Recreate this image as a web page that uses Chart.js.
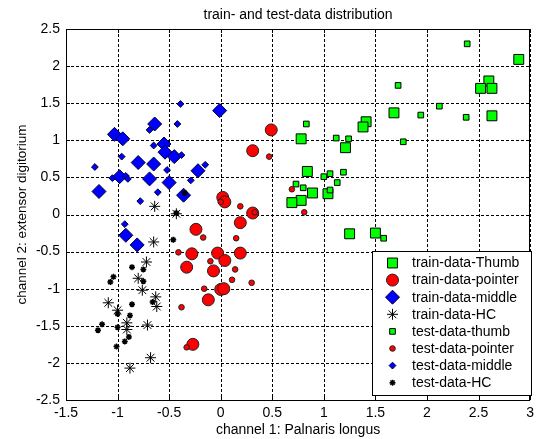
<!DOCTYPE html>
<html>
<head>
<meta charset="utf-8">
<script src="https://cdn.jsdelivr.net/npm/chart.js@4"></script>
<style>
  html, body { margin: 0; padding: 0; background: #fff; }
  #wrap { width: 539px; height: 439px; }
</style>
</head>
<body>
<div id="wrap"><canvas id="myChart" width="539" height="439"></canvas></div>
<script>
// data, [channel 1, channel 2]
var trainThumb = [[2.89,2.09],[2.60,1.80],[2.52,1.70],[2.63,1.70],[2.63,1.33],[1.68,1.37],[1.41,1.25],
  [1.38,1.18],[0.78,1.02],[1.21,0.90],[0.84,0.58],[0.89,0.29],[1.04,0.28],[0.78,0.19],[0.69,0.16],
  [1.25,-0.26],[1.50,-0.25]];
var trainPointer = [[0.49,1.14],[0.31,0.86],[0.02,0.23],[0.04,0.17],[0.31,0.02],[0.19,-0.11],
  [-0.24,-0.20],[-0.28,-0.53],[-0.33,-0.71],[-0.03,-0.52],[0.04,-0.62],[0.19,-0.52],[-0.07,-0.76],
  [0.00,-1.01],[0.03,-1.00],[-0.12,-1.15],[-0.27,-1.75]];
var trainMiddle = [[-1.03,1.08],[-0.95,1.02],[-0.64,1.22],[-0.55,0.95],[-0.54,0.84],[-0.45,0.78],
  [-0.80,0.70],[-0.65,0.68],[-0.98,0.51],[-0.69,0.48],[-0.50,0.43],[-0.22,0.59],[-1.18,0.31],
  [-0.36,0.26],[-0.01,1.40],[-0.92,-0.28],[-0.81,-0.41]];
var trainHC = [[-0.64,0.11],[-0.43,0.01],[-0.65,-0.37],[-0.72,-0.64],[-0.80,-0.86],[-0.76,-1.02],
  [-0.63,-1.11],[-0.62,-1.24],[-1.09,-1.19],[-1.00,-1.29],[-0.91,-1.46],[-0.91,-1.55],[-0.71,-1.49],
  [-0.68,-1.93],[-0.88,-2.07]];
var testThumb = [[2.39,2.30],[1.72,1.74],[2.12,1.46],[1.94,1.34],[2.38,1.31],[0.83,1.22],[1.12,1.03],
  [1.24,1.02],[1.77,0.98],[1.19,0.57],[1.06,0.55],[1.00,0.51],[1.13,0.43],[0.73,0.41],[0.80,0.36],
  [1.06,0.33],[1.58,-0.32]];
var testPointer = [[-0.17,-0.31],[-0.41,-0.51],[-0.10,-0.63],[0.14,-0.74],[0.11,-0.88],[0.30,-0.92],
  [-0.16,-1.00],[-0.38,-1.25],[-0.33,-1.79],[0.15,-0.32],[0.19,0.11],[0.00,0.17],[0.33,0.03],
  [0.47,0.78],[0.69,0.34],[0.81,0.03]];
var testMiddle = [[-1.22,0.64],[-0.39,1.49],[-0.42,1.22],[-0.69,1.14],[-0.96,0.78],[-0.65,0.93],
  [-0.38,0.80],[-0.52,0.60],[-1.05,0.49],[-0.92,0.52],[-0.90,0.48],[-0.29,0.46],[-0.15,0.67],
  [-0.61,0.30],[-0.78,0.18],[-0.93,-0.13]];
var testHC = [[-0.46,-0.34],[-0.86,-0.71],[-0.75,-0.74],[-1.04,-0.84],[-1.07,-0.91],[-0.75,-0.90],
  [-0.86,-1.21],[-0.66,-1.18],[-1.00,-1.34],[-0.88,-1.36],[-1.00,-1.52],[-1.15,-1.48],[-1.19,-1.56],
  [-0.89,-1.65],[-0.93,-1.71],[-1.01,-1.78],[-0.35,0.29],[-0.43,0.02]];

var seriesNames = ["train-data-Thumb", "train-data-pointer", "train-data-middle", "train-data-HC",
  "test-data-thumb", "test-data-pointer", "test-data-middle", "test-data-HC"];
var xTicks = [-1.5, -1, -0.5, 0, 0.5, 1, 1.5, 2, 2.5, 3];
var yTicks = [-2.5, -2, -1.5, -1, -0.5, 0, 0.5, 1, 1.5, 2, 2.5];

function pts(arr) {
  return arr.map(function (p) { return { x: p[0], y: p[1] }; });
}

var styles = [
  { pointStyle: 'rect', pointRadius: 7, backgroundColor: '#00ff00', borderColor: '#000', borderWidth: 1 },
  { pointStyle: 'circle', pointRadius: 6, backgroundColor: '#ff0000', borderColor: '#222', borderWidth: 1 },
  { pointStyle: 'rectRot', pointRadius: 7, backgroundColor: '#0000ff', borderColor: '#000033', borderWidth: 1 },
  { pointStyle: 'star', pointRadius: 5.5, backgroundColor: '#000', borderColor: '#000', borderWidth: 1 },
  { pointStyle: 'rect', pointRadius: 4, backgroundColor: '#00ff00', borderColor: '#000', borderWidth: 1 },
  { pointStyle: 'circle', pointRadius: 2.8, backgroundColor: '#ff0000', borderColor: '#222', borderWidth: 1 },
  { pointStyle: 'rectRot', pointRadius: 3.4, backgroundColor: '#0000ff', borderColor: '#000033', borderWidth: 1 },
  { pointStyle: 'star', pointRadius: 3, backgroundColor: '#000', borderColor: '#000', borderWidth: 1.5 }
];
var allData = [trainThumb, trainPointer, trainMiddle, trainHC, testThumb, testPointer, testMiddle, testHC];

var datasets = allData.map(function (d, i) {
  var s = styles[i];
  return {
    label: seriesNames[i],
    data: pts(d),
    pointStyle: s.pointStyle,
    pointRadius: s.pointRadius,
    pointHoverRadius: s.pointRadius,
    backgroundColor: s.backgroundColor,
    borderColor: s.borderColor,
    borderWidth: s.borderWidth,
    order: allData.length - i   // later series on top, like matlab
  };
});

var FONT = 'Liberation Sans, Arial, sans-serif';

// dashed grid under the points
var dashGrid = {
  id: 'dashGrid',
  beforeDatasetsDraw: function (chart) {
    var ctx = chart.ctx, a = chart.chartArea;
    var xs = chart.scales.x, ys = chart.scales.y;
    ctx.save();
    ctx.strokeStyle = '#000';
    ctx.lineWidth = 1;
    ctx.setLineDash([3, 2]);
    ctx.beginPath();
    xTicks.forEach(function (t) {
      var px = Math.round(xs.getPixelForValue(t)) + 0.5;
      ctx.moveTo(px, a.top); ctx.lineTo(px, a.bottom);
    });
    yTicks.forEach(function (t) {
      var py = Math.round(ys.getPixelForValue(t)) + 0.5;
      ctx.moveTo(a.left, py); ctx.lineTo(a.right, py);
    });
    ctx.stroke();
    ctx.restore();
  }
};

// title, box, inner ticks and legend, matlab style
var matlabLook = {
  id: 'matlabLook',
  afterDraw: function (chart) {
    var ctx = chart.ctx, a = chart.chartArea;
    var xs = chart.scales.x, ys = chart.scales.y;
    ctx.save();
    ctx.strokeStyle = '#000';
    ctx.lineWidth = 1;
    ctx.setLineDash([]);
    ctx.strokeRect(Math.round(a.left) + 0.5, Math.round(a.top) + 0.5,
      Math.round(a.right - a.left) - 1, Math.round(a.bottom - a.top));
    ctx.beginPath();
    xTicks.forEach(function (t) {
      var px = Math.round(xs.getPixelForValue(t)) + 0.5;
      ctx.moveTo(px, a.bottom); ctx.lineTo(px, a.bottom - 4);
      ctx.moveTo(px, a.top); ctx.lineTo(px, a.top + 4);
    });
    yTicks.forEach(function (t) {
      var py = Math.round(ys.getPixelForValue(t)) + 0.5;
      ctx.moveTo(a.left, py); ctx.lineTo(a.left + 4, py);
      ctx.moveTo(a.right, py); ctx.lineTo(a.right - 4, py);
    });
    ctx.stroke();

    // title
    ctx.fillStyle = '#000';
    ctx.font = '14px ' + FONT;
    ctx.textAlign = 'center';
    ctx.textBaseline = 'middle';
    ctx.fillText('train- and test-data distribution', (a.left + a.right) / 2, 15);

    // legend
    var lx = 372, ly = 251, lw = 159, lh = 144, step = 17.1;
    ctx.fillStyle = '#fff';
    ctx.fillRect(lx, ly, lw, lh);
    ctx.strokeRect(lx + 0.5, ly + 0.5, lw, lh);
    ctx.font = '14px ' + FONT;
    ctx.textAlign = 'left';
    chart.data.datasets.forEach(function (ds, i) {
      var cy = ly + 12 + i * step;
      ctx.fillStyle = ds.backgroundColor;
      ctx.strokeStyle = ds.borderColor;
      ctx.lineWidth = ds.borderWidth;
      Chart.helpers.drawPoint(ctx, { pointStyle: ds.pointStyle, radius: ds.pointRadius, rotation: 0, borderWidth: ds.borderWidth }, 392.5, cy);
      ctx.fillStyle = '#000';
      ctx.fillText(ds.label, 412, cy + 0.5);
    });
    ctx.restore();
  }
};

var ctx = document.getElementById('myChart').getContext('2d');
var chart = new Chart(ctx, {
  type: 'scatter',
  data: { datasets: datasets },
  options: {
    responsive: false,
    animation: false,
    events: [],
    layout: { padding: { top: 29, right: 7, left: 0, bottom: 0 } },
    plugins: { legend: { display: false }, title: { display: false }, tooltip: { enabled: false } },
    scales: {
      x: {
        type: 'linear', min: -1.5, max: 3,
        afterBuildTicks: function (s) { s.ticks = xTicks.map(function (v) { return { value: v }; }); },
        afterFit: function (s) { s.height = 39; },
        ticks: {
          color: '#000', padding: 5, font: { family: FONT, size: 14 }, maxRotation: 0, autoSkip: false,
          callback: function (v) { return String(Math.round(v * 10) / 10); }
        },
        grid: { display: false, drawTicks: false },
        border: { display: false },
        title: { display: true, text: 'channel 1: Palnaris longus', color: '#000',
          font: { family: FONT, size: 14 }, padding: { top: 0, bottom: 0 } }
      },
      y: {
        type: 'linear', min: -2.5, max: 2.5,
        afterBuildTicks: function (s) { s.ticks = yTicks.map(function (v) { return { value: v }; }); },
        afterFit: function (s) { s.width = 66; },
        ticks: {
          color: '#000', padding: 6, font: { family: FONT, size: 14 }, autoSkip: false,
          callback: function (v) { return String(Math.round(v * 10) / 10); }
        },
        grid: { display: false, drawTicks: false },
        border: { display: false },
        title: { display: true, text: 'channel 2: extensor digitorium', color: '#000',
          font: { family: FONT, size: 13.5 }, padding: { top: 14, bottom: 0 } }
      }
    }
  },
  plugins: [dashGrid, matlabLook]
});
</script>
</body>
</html>
